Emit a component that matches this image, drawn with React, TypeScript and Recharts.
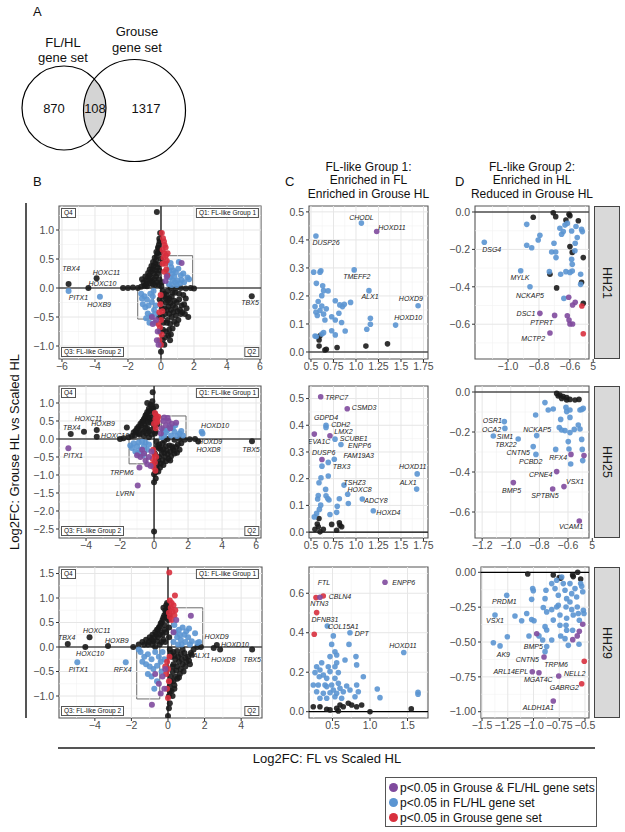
import React from 'react'
import { ScatterChart, Scatter, XAxis, YAxis, ReferenceLine, ReferenceArea } from 'recharts'

type Pt = [number, number]
type Lbl = [string, number, number]

const FONT = "'Liberation Sans', Arial, Helvetica, sans-serif"
const BLACK = '#1b1b1b'
const BLUE = '#5b95d2'
const RED = '#d8303e'
const PURPLE = '#7f4a9d'

// ---- A: venn ----
const VENN_SETS = ['FL/HL', 'Grouse']
const VENN_COUNTS = [870, 108, 1317]

// ---- B: all genes, per stage ----
const B1_BLACK: Pt[] = [
  [-5.6, 0.07], [-3.9, 0.17], [-4.4, 0.0], [5.5, -0.14], [-0.25, 1.31], [0.0, -1.1],
  [-2.3, 0.0], [-2.0, 0.0], [-1.7, 0.01], [-1.4, 0.0], [-1.2, 0.02], [-1.0, 0.04], [-0.85, 0.03],
  [0.6, 0.0], [0.9, -0.01], [1.2, 0.0], [1.5, -0.01], [1.8, 0.0], [2.0, -0.01],
  [-0.05, 0.95], [-0.1, 0.85], [-0.12, 0.75], [-0.15, 0.68], [-0.2, 0.6], [-0.25, 0.55], [-0.3, 0.48],
  [-0.35, 0.42], [-0.45, 0.38], [-0.5, 0.32], [-0.6, 0.28], [-0.7, 0.22], [-0.8, 0.18], [-0.9, 0.13],
  [-1.05, 0.1], [-0.15, 0.4], [-0.1, 0.3], [-0.2, 0.25], [-0.3, 0.2], [-0.05, 0.62], [0.0, 0.5],
  [-0.4, 0.15], [-0.55, 0.12], [-0.25, 0.1], [-0.1, 0.15], [0.05, 0.1],
  [-0.08, 0.8], [-0.18, 0.7], [-0.28, 0.62], [-0.38, 0.52], [-0.48, 0.45], [-0.58, 0.38], [-0.68, 0.32],
  [-0.78, 0.26], [-0.95, 0.2], [-1.15, 0.15], [-0.22, 0.35], [-0.32, 0.3], [-0.42, 0.25], [-0.62, 0.18],
  [-0.72, 0.12], [-0.9, 0.06], [-0.5, 0.06], [-0.35, 0.05], [-0.15, 0.05], [0.02, 0.03], [-0.65, 0.08],
  [0.1, -0.05], [0.2, -0.1], [0.35, -0.12], [0.5, -0.18], [0.65, -0.15], [0.8, -0.22], [0.95, -0.25],
  [1.1, -0.2], [1.25, -0.3], [1.4, -0.28], [1.55, -0.35], [1.65, -0.5], [0.3, -0.25], [0.45, -0.32],
  [0.6, -0.38], [0.75, -0.42], [0.9, -0.48], [1.05, -0.55], [1.2, -0.45], [0.25, -0.45], [0.4, -0.55],
  [0.55, -0.62], [0.7, -0.7], [0.15, -0.6], [0.3, -0.75], [0.45, -0.82], [0.1, -0.9], [0.2, -0.98],
  [0.05, -0.35], [1.35, -0.12], [0.85, -0.08], [-0.08, -0.2], [-0.12, -0.5], [-0.05, -0.75], [0.02, -0.25],
  [0.15, -0.15], [0.3, -0.18], [0.42, -0.22], [0.58, -0.26], [0.72, -0.3], [0.88, -0.34], [1.0, -0.4],
  [1.15, -0.38], [1.3, -0.42], [1.45, -0.45], [0.35, -0.38], [0.5, -0.45], [0.65, -0.5], [0.8, -0.58],
  [0.95, -0.62], [0.2, -0.35], [0.35, -0.6], [0.5, -0.72], [0.6, -0.8], [0.25, -0.85], [0.12, -0.72],
  [0.08, -0.5], [1.1, -0.1], [0.7, -0.08], [0.4, -0.05], [1.5, -0.18], [0.55, -0.9],
]
const B1_BLUE: Pt[] = [
  [-5.6, -0.05], [-3.7, -0.15],
  [0.5, 0.3], [0.62, 0.36], [0.75, 0.3], [0.9, 0.27], [1.05, 0.33], [1.2, 0.22], [1.35, 0.25], [1.6, 0.18],
  [0.55, 0.18], [0.7, 0.14], [0.85, 0.1], [1.0, 0.13], [1.15, 0.08], [0.65, 0.05], [0.8, 0.2], [0.95, 0.05],
  [1.4, 0.1], [0.58, 0.43], [1.08, 0.45], [1.7, 0.15], [0.48, 0.07], [0.68, 0.24], [1.25, 0.14], [0.4, 0.22],
  [-1.2, -0.1], [-1.0, -0.14], [-0.85, -0.2], [-0.65, -0.1], [-1.1, -0.28], [-0.95, -0.33], [-0.75, -0.3],
  [-0.55, -0.24], [-0.42, -0.38], [-0.6, -0.48], [-0.8, -0.44], [-0.38, -0.6], [-0.5, -0.14], [-1.15, -0.18],
  [-0.45, -0.05], [-0.3, -0.3], [-0.7, -0.6], [-0.9, -0.52], [-0.35, -0.45],
]
const B1_RED: Pt[] = [
  [0.05, 0.95], [0.12, 0.86], [0.18, 0.8], [0.22, 0.74], [0.28, 0.7], [0.1, 0.66], [0.2, 0.6], [0.3, 0.56],
  [0.15, 0.52], [0.35, 0.47], [0.25, 0.42], [0.32, 0.32], [0.38, 0.22], [0.1, 0.42], [0.2, 0.28], [0.4, 0.6],
  [-0.04, -0.28], [-0.1, -0.42], [0.0, -0.55], [-0.06, -0.68], [0.04, -0.8], [-0.1, -0.9], [0.0, -0.98],
  [-0.16, -0.62], [0.08, -0.4], [-0.02, -0.12],
]
const B1_PURPLE: Pt[] = [
  [1.25, 0.43], [0.35, 0.2], [0.28, 0.12], [-0.3, -0.55], [-0.2, -0.75], [-0.25, -0.9], [-0.5, -0.62],
  [-0.55, -0.5], [-0.15, -0.98],
]
const B1_LABELS: Lbl[] = [
  ['TBX4', -5.45, 0.33], ['HOXC11', -3.3, 0.26], ['HOXC10', -3.55, 0.07], ['PITX1', -5.0, -0.17],
  ['HOXB9', -3.75, -0.29], ['TBX5', 5.4, -0.25],
]

const B2_BLACK: Pt[] = [
  [-4.9, 0.14], [-4.12, 0.2], [-3.37, 0.25], [-3.37, 0.06], [-1.6, 0.32], [2.41, 0.0], [2.6, -0.07],
  [5.76, -0.06], [-0.08, 1.3], [0.0, -2.57],
  [-0.1, 1.05], [-0.2, 0.95], [-0.3, 0.85], [-0.15, 0.8], [-0.4, 0.75], [-0.25, 0.7], [-0.5, 0.65],
  [-0.6, 0.55], [-0.35, 0.6], [-0.7, 0.48], [-0.8, 0.42], [-0.55, 0.4], [-0.9, 0.35], [-1.0, 0.3],
  [-1.1, 0.22], [-1.2, 0.18], [-0.4, 0.3], [-0.2, 0.45], [-0.1, 0.6], [0.0, 0.35], [-0.3, 0.2],
  [-0.6, 0.2], [-0.85, 0.12], [-1.3, 0.08], [-1.5, 0.05], [-0.15, 0.12], [0.1, 0.2], [0.2, 0.4],
  [-0.05, 0.85], [0.05, 0.7], [-0.45, 0.5],
  [-0.15, 0.9], [-0.3, 0.78], [-0.45, 0.68], [-0.55, 0.58], [-0.65, 0.5], [-0.75, 0.38], [-0.95, 0.28],
  [-1.05, 0.18], [-0.25, 0.55], [-0.35, 0.45], [-0.5, 0.32], [-0.7, 0.25], [-0.9, 0.15], [-0.45, 0.15],
  [-0.2, 0.25], [-1.15, 0.1], [-0.6, 0.08], [-0.3, 0.05], [0.05, 0.15], [-0.05, 0.5], [0.12, 0.9], [-0.4, 1.0],
  [-2.0, 0.0], [-1.8, 0.02], [0.8, 0.0], [1.2, -0.02], [1.5, 0.0], [1.8, -0.02], [2.1, -0.01],
  [0.15, -0.08], [0.3, -0.15], [0.5, -0.12], [0.7, -0.2], [0.9, -0.18], [1.1, -0.25], [1.3, -0.22],
  [1.5, -0.3], [0.4, -0.3], [0.6, -0.38], [0.8, -0.42], [1.0, -0.48], [1.2, -0.4], [0.3, -0.5],
  [0.5, -0.58], [0.7, -0.62], [0.2, -0.7], [0.35, -0.8], [0.1, -0.92], [0.0, -0.98], [0.05, -0.4],
  [0.95, -0.6], [1.6, -0.12], [0.25, -0.25],
  [0.2, -0.2], [0.35, -0.25], [0.55, -0.28], [0.75, -0.32], [0.95, -0.35], [1.15, -0.32], [1.35, -0.38],
  [0.45, -0.42], [0.65, -0.5], [0.85, -0.55], [0.25, -0.6], [0.4, -0.68], [0.55, -0.72], [0.15, -0.82],
  [0.25, -0.9], [1.05, -0.2], [1.4, -0.15], [0.6, -0.05], [0.1, -1.1], [0.0, -1.2],
]
const B2_BLUE: Pt[] = [
  [2.8, 0.2], [2.85, 0.15],
  [0.8, 0.25], [1.2, 0.2], [1.5, 0.15], [1.6, 0.22], [0.6, 0.1], [1.0, 0.1], [0.45, 0.05], [0.7, 0.18],
  [1.1, 0.3], [1.35, 0.08], [0.9, 0.35], [1.7, 0.1], [0.55, 0.25], [1.25, 0.38],
  [-1.0, -0.2], [-1.3, -0.25], [-0.8, -0.3], [-0.6, -0.2], [-1.1, -0.35], [-0.4, -0.3], [-1.2, -0.12],
  [-0.9, -0.1], [-0.7, -0.08], [-1.4, -0.18], [-0.5, -0.1], [-0.3, -0.15], [-0.95, -0.4], [-0.65, -0.45],
]
const B2_RED: Pt[] = [
  [0.05, 0.72], [0.12, 0.65], [0.18, 0.58], [0.08, 0.55], [0.22, 0.5], [0.15, 0.45], [0.0, 0.42],
  [0.1, 0.3], [0.25, 0.62], [-0.05, -0.3], [0.02, -0.42], [-0.08, -0.55], [0.05, -0.65], [-0.03, -0.78],
  [0.08, -0.88], [-0.1, -0.7], [0.12, -0.5],
]
const B2_PURPLE: Pt[] = [
  [-5.04, -0.26], [-0.86, -0.79], [-0.96, -1.29],
  [0.6, 0.6], [0.85, 0.5], [1.05, 0.42], [0.7, 0.38], [1.3, 0.45], [0.45, 0.3], [0.55, 0.5], [0.95, 0.3],
  [0.8, 0.58], [0.4, 0.15],
  [-0.6, -0.4], [-0.3, -0.5], [-0.5, -0.6], [-0.2, -0.75], [-0.8, -0.5], [-0.4, -0.7], [-1.0, -0.45],
  [-0.7, -0.3], [-0.15, -0.35],
]
const B2_LABELS: Lbl[] = [
  ['TBX4', -4.84, 0.33], ['HOXC11', -3.86, 0.57], ['HOXB9', -3.0, 0.42], ['HOXC10', -2.29, 0.09],
  ['PITX1', -4.75, -0.47], ['TRPM6', -1.9, -0.94], ['LVRN', -1.7, -1.51], ['HOXD10', 3.59, 0.37],
  ['HOXD9', 3.3, -0.06], ['HOXD8', 3.2, -0.3], ['TBX5', 5.7, -0.3],
]

const B3_BLACK: Pt[] = [
  [-5.48, 0.06], [-4.29, 0.2], [-4.52, 0.0], [-3.28, 0.02], [1.3, -0.16], [2.67, 0.04], [2.5, -0.02],
  [2.85, -0.05], [4.6, -0.05], [0.0, -1.41],
  [-0.05, 0.9], [-0.1, 0.85], [0.0, 0.8], [-0.15, 0.75], [-0.2, 0.65], [-0.1, 0.6], [-0.3, 0.55],
  [-0.4, 0.48], [-0.2, 0.45], [-0.5, 0.4], [-0.6, 0.35], [-0.7, 0.3], [-0.85, 0.25], [-1.0, 0.2],
  [-1.2, 0.15], [-1.4, 0.1], [-1.6, 0.05], [-0.35, 0.3], [-0.55, 0.2], [-0.8, 0.12], [-0.25, 0.15],
  [-0.1, 0.3], [0.0, 0.55], [0.05, 0.4], [-1.1, 0.05], [-0.45, 0.05], [-0.7, 0.0], [-1.9, 0.0],
  [-0.12, 0.7], [-0.25, 0.6], [-0.35, 0.5], [-0.45, 0.42], [-0.55, 0.35], [-0.65, 0.25], [-0.75, 0.2],
  [-0.9, 0.15], [-1.05, 0.1], [-1.3, 0.05], [-0.2, 0.35], [-0.3, 0.25], [-0.45, 0.25], [-0.6, 0.12],
  [-0.85, 0.05], [-0.15, 0.1], [-0.35, 0.1], [0.05, 0.2], [-0.05, 0.75], [0.08, 0.65], [-0.25, 0.8],
  [0.1, -0.05], [0.3, -0.1], [0.5, -0.08], [0.7, -0.15], [0.9, -0.12], [1.1, -0.2], [1.4, -0.05],
  [1.6, 0.0], [1.8, 0.0], [0.2, -0.2], [0.4, -0.25], [0.6, -0.3], [0.8, -0.35], [1.0, -0.3],
  [0.25, -0.4], [0.45, -0.48], [0.65, -0.55], [0.15, -0.6], [0.3, -0.7], [0.1, -0.8], [0.2, -0.9],
  [0.05, -1.0], [0.5, -0.65], [0.85, -0.5], [1.2, -0.35], [0.35, -0.85],
  [0.15, -0.12], [0.35, -0.18], [0.55, -0.2], [0.75, -0.25], [0.95, -0.22], [1.15, -0.28], [0.3, -0.35],
  [0.5, -0.4], [0.7, -0.45], [0.95, -0.4], [0.4, -0.6], [0.6, -0.62], [0.25, -0.5], [0.15, -0.7],
  [0.35, -0.78], [0.1, -0.9], [0.25, -1.0], [0.1, -1.15], [0.05, -1.25], [1.25, -0.12], [0.8, -0.05],
]
const B3_BLUE: Pt[] = [
  [-4.96, -0.31], [-2.31, -0.31],
  [0.3, 0.1], [0.5, 0.2], [0.7, 0.15], [0.9, 0.25], [1.1, 0.2], [1.3, 0.12], [1.48, 0.28], [0.6, 0.35],
  [0.8, 0.4], [1.0, 0.32], [0.4, 0.3], [1.2, 0.05], [1.6, 0.08], [0.55, 0.05], [0.75, 0.05], [0.95, 0.1],
  [0.35, 0.45], [1.15, 0.38], [1.7, 0.1], [0.65, 0.25],
  [-1.5, -0.1], [-1.3, -0.2], [-1.1, -0.15], [-0.9, -0.25], [-0.7, -0.1], [-0.5, -0.2], [-1.2, -0.35],
  [-1.0, -0.4], [-0.8, -0.45], [-0.6, -0.38], [-0.4, -0.3], [-1.4, -0.3], [-0.3, -0.1], [-0.9, -0.6],
  [-0.6, -0.7], [-1.1, -0.55], [-0.35, -0.5], [-1.6, -0.05], [-0.2, -0.25], [-0.75, -0.85],
]
const B3_RED: Pt[] = [
  [0.07, 1.52], [0.38, 1.05], [0.1, 0.95], [0.2, 0.9], [0.3, 0.85], [0.15, 0.8], [0.25, 0.72], [0.35, 0.65],
  [0.1, 0.62], [0.2, 0.55], [0.4, 0.75], [0.05, 0.7], [-0.05, -0.3], [0.0, -0.45], [-0.1, -0.55],
  [0.05, -0.7], [-0.05, -0.85], [0.0, -1.04], [-0.15, -0.4], [0.08, -0.2],
]
const B3_PURPLE: Pt[] = [
  [1.25, 0.64], [0.45, 0.55], [0.3, 0.3], [-0.88, -1.18], [-0.3, -0.6], [-0.5, -0.75], [-0.2, -0.85],
  [-0.4, -0.95], [-0.7, -0.55], [-0.15, -0.45],
]
const B3_LABELS: Lbl[] = [
  ['TBX4', -5.54, 0.2], ['HOXC11', -3.9, 0.33], ['HOXB9', -2.8, 0.14], ['HOXC10', -4.26, -0.14],
  ['PITX1', -4.9, -0.45], ['RFX4', -2.48, -0.45], ['ALX1', 1.84, -0.18], ['HOXD9', 2.66, 0.21],
  ['HOXD10', 3.66, 0.06], ['HOXD8', 3.02, -0.25], ['TBX5', 4.6, -0.25],
]

// ---- C: FL-like group 1 ----
const C1_BLACK: Pt[] = [
  [0.59, 0.043], [0.6, 0.058], [0.59, 0.021], [0.655, 0.007], [0.67, 0.01], [0.79, 0.016], [1.11, 0.021],
  [1.35, 0.029],
]
const C1_BLUE: Pt[] = [
  [1.06, 0.46], [0.555, 0.414], [0.98, 0.293], [1.144, 0.219], [1.69, 0.165], [1.44, 0.096],
  [0.53, 0.285], [0.6, 0.285], [0.61, 0.29], [0.56, 0.245], [0.63, 0.236], [0.64, 0.219], [0.69, 0.218],
  [0.62, 0.201], [0.58, 0.18], [0.545, 0.162], [0.62, 0.164], [0.67, 0.154], [0.6, 0.148], [0.555, 0.142],
  [0.64, 0.135], [0.57, 0.13], [0.73, 0.126], [0.655, 0.114], [0.77, 0.183], [0.82, 0.168], [0.85, 0.162],
  [0.87, 0.17], [0.94, 0.177], [0.81, 0.138], [0.77, 0.114], [0.84, 0.105], [0.73, 0.076], [0.77, 0.061],
  [0.88, 0.075], [0.64, 0.069], [0.62, 0.064], [0.56, 0.055], [0.545, 0.057], [1.16, 0.12], [1.16, 0.099],
  [1.12, 0.081],
]
const C1_PURPLE: Pt[] = [[1.23, 0.43]]
const C1_RED: Pt[] = []
const C1_LABELS: Lbl[] = [
  ['CHODL', 1.06, 0.48], ['HOXD11', 1.4, 0.445], ['DUSP26', 0.667, 0.39], ['TMEFF2', 1.01, 0.269],
  ['ALX1', 1.156, 0.198], ['HOXD9', 1.61, 0.19], ['HOXD10', 1.58, 0.122],
]

const C2_BLACK: Pt[] = [
  [0.589, 0.051], [0.57, 0.03], [0.581, 0.02], [0.73, 0.029], [0.815, 0.035], [0.822, 0.026], [0.841, 0.02],
  [0.637, 0.011], [0.544, 0.011], [0.785, 0.007], [0.6, 0.001],
]
const C2_BLUE: Pt[] = [
  [0.667, 0.4], [0.667, 0.392], [0.767, 0.348], [0.833, 0.328], [0.759, 0.273], [0.692, 0.261],
  [0.622, 0.247], [0.692, 0.21], [0.611, 0.203], [0.589, 0.185], [0.867, 0.176], [0.663, 0.16],
  [0.581, 0.137], [0.667, 0.136], [0.908, 0.142], [0.686, 0.126], [0.7, 0.12], [0.574, 0.124],
  [0.815, 0.125], [1.07, 0.124], [0.608, 0.101], [0.792, 0.097], [0.915, 0.107], [0.593, 0.085],
  [0.785, 0.074], [1.192, 0.08], [0.563, 0.07], [0.537, 0.057], [0.711, 0.066], [1.68, 0.218], [1.674, 0.161],
]
const C2_PURPLE: Pt[] = [
  [0.608, 0.507], [0.903, 0.462], [0.537, 0.367], [0.711, 0.361], [0.622, 0.272],
]
const C2_RED: Pt[] = []
const C2_LABELS: Lbl[] = [
  ['TRPC7', 0.785, 0.504], ['CSMD3', 1.09, 0.466], ['GDPD4', 0.667, 0.43], ['CDH2', 0.83, 0.404],
  ['LMX2', 0.86, 0.378], ['SCUBE1', 0.975, 0.351], ['EVA1C', 0.59, 0.338], ['ENPP6', 1.04, 0.323],
  ['DUSP6', 0.641, 0.298], ['FAM19A3', 1.03, 0.288], ['TBX3', 0.84, 0.246], ['TSHZ3', 0.985, 0.185],
  ['HOXC8', 1.04, 0.158], ['ADCY8', 1.222, 0.12], ['HOXD4', 1.36, 0.072], ['HOXD11', 1.63, 0.245],
  ['ALX1', 1.58, 0.185],
]

const C3_BLACK: Pt[] = [
  [0.244, 0.025], [0.333, 0.025], [0.423, 0.012], [0.467, 0.009], [0.556, 0.017], [0.6, 0.034],
  [0.644, 0.025], [0.711, 0.043], [0.756, 0.034], [0.822, 0.025], [0.889, 0.034], [1.0, 0.0],
  [0.578, 0.004], [1.55, 0.014],
]
const C3_BLUE: Pt[] = [
  [0.431, 0.434], [0.733, 0.4], [0.511, 0.384], [0.489, 0.341], [0.72, 0.341], [0.533, 0.304],
  [0.467, 0.279], [0.556, 0.287], [0.667, 0.262], [0.813, 0.279], [0.556, 0.248], [0.533, 0.228],
  [0.289, 0.228], [0.333, 0.211], [0.267, 0.198], [0.378, 0.186], [0.467, 0.203], [0.578, 0.198],
  [0.822, 0.237], [0.911, 0.177], [0.324, 0.177], [0.423, 0.169], [0.533, 0.169], [0.244, 0.135],
  [0.311, 0.135], [0.4, 0.135], [0.489, 0.135], [0.578, 0.144], [0.689, 0.13], [0.822, 0.135],
  [0.289, 0.101], [0.378, 0.093], [0.467, 0.096], [0.556, 0.093], [0.644, 0.101], [0.733, 0.11],
  [0.844, 0.101], [0.333, 0.068], [0.423, 0.068], [0.533, 0.076], [0.622, 0.068], [0.8, 0.076],
  [1.097, 0.115], [1.133, 0.071], [0.423, 0.127], [0.511, 0.11], [0.6, 0.119], [0.356, 0.248],
  [0.444, 0.228], [1.45, 0.3], [1.64, 0.098], [1.64, 0.088],
]
const C3_PURPLE: Pt[] = [[0.333, 0.58], [1.2, 0.656]]
const C3_RED: Pt[] = [[0.28, 0.578], [0.377, 0.586], [0.289, 0.502], [0.257, 0.392]]
const C3_LABELS: Lbl[] = [
  ['FTL', 0.387, 0.656], ['CBLN4', 0.6, 0.586], ['NTN3', 0.324, 0.546], ['DFNB31', 0.4, 0.468],
  ['COL15A1', 0.644, 0.431], ['DPT', 0.889, 0.397], ['ENPP6', 1.45, 0.656], ['HOXD11', 1.44, 0.335],
]

// ---- D: FL-like group 2 ----
const D1_BLACK: Pt[] = [
  [-0.837, -0.028], [-0.708, -0.004], [-0.692, -0.025], [-0.626, -0.043], [-0.606, -0.012], [-0.6, -0.02],
  [-0.546, -0.047], [-0.6, -0.185], [-0.585, -0.216], [-0.514, -0.244], [-0.729, -0.333], [-0.686, -0.406],
  [-0.525, -0.376], [-0.514, -0.488],
]
const D1_BLUE: Pt[] = [
  [-1.153, -0.162], [-0.879, -0.066], [-0.794, -0.125], [-0.805, -0.15], [-0.879, -0.178], [-0.847, -0.191],
  [-0.703, -0.167], [-0.718, -0.214], [-0.692, -0.214], [-0.69, -0.244], [-0.665, -0.087], [-0.643, -0.105],
  [-0.654, -0.119], [-0.632, -0.07], [-0.617, -0.061], [-0.589, -0.102], [-0.561, -0.078], [-0.525, -0.093],
  [-0.52, -0.105], [-0.553, -0.137], [-0.566, -0.167], [-0.568, -0.207], [-0.589, -0.253], [-0.585, -0.28],
  [-0.626, -0.319], [-0.6, -0.323], [-0.585, -0.316], [-0.66, -0.333], [-0.733, -0.319], [-0.531, -0.333],
  [-0.531, -0.387], [-0.918, -0.314], [-0.858, -0.4], [-0.639, -0.462],
]
const D1_PURPLE: Pt[] = [
  [-0.608, -0.456], [-0.583, -0.497], [-0.566, -0.483], [-0.794, -0.542], [-0.699, -0.553], [-0.617, -0.555],
  [-0.606, -0.578], [-0.6, -0.599], [-0.583, -0.599], [-0.729, -0.647],
]
const D1_RED: Pt[] = [[-0.523, -0.503], [-0.514, -0.651]]
const D1_LABELS: Lbl[] = [
  ['DSG4', -1.105, -0.203], ['MYLK', -0.923, -0.349], ['NCKAP5', -0.858, -0.444], ['DSC1', -0.884, -0.545],
  ['PTPRT', -0.783, -0.59], ['MCTP2', -0.837, -0.679],
]

const D2_BLACK: Pt[] = [
  [-0.679, -0.007], [-0.656, -0.015], [-0.633, -0.023], [-0.609, -0.028], [-0.586, -0.037], [-0.551, -0.04],
  [-0.523, -0.037], [-0.668, -0.02], [-0.609, -0.04], [-0.644, -0.032],
]
const D2_BLUE: Pt[] = [
  [-0.761, -0.053], [-0.738, -0.09], [-0.703, -0.085], [-0.826, -0.115], [-0.614, -0.077], [-0.609, -0.098],
  [-0.586, -0.09], [-0.504, -0.087], [-0.493, -0.082], [-0.516, -0.09], [-0.586, -0.127], [-0.651, -0.137],
  [-0.661, -0.178], [-0.644, -0.19], [-0.621, -0.193], [-0.586, -0.203], [-0.556, -0.187], [-0.528, -0.165],
  [-0.516, -0.185], [-0.504, -0.237], [-0.598, -0.248], [-0.5, -0.287], [-0.593, -0.285], [-0.686, -0.287],
  [-0.497, -0.343], [-0.581, -0.36], [-1.045, -0.148], [-1.041, -0.182], [-1.122, -0.22], [-0.948, -0.235],
  [-0.819, -0.218], [-0.843, -0.273], [-0.824, -0.312],
]
const D2_PURPLE: Pt[] = [
  [-0.579, -0.312], [-0.488, -0.318], [-0.679, -0.398], [-0.628, -0.473], [-0.707, -0.485], [-0.982, -0.453],
  [-0.521, -0.645],
]
const D2_RED: Pt[] = []
const D2_LABELS: Lbl[] = [
  ['OSR1', -1.129, -0.14], ['OCA2', -1.134, -0.185], ['SIM1', -1.04, -0.22], ['TBX22', -1.034, -0.262],
  ['CNTN5', -0.948, -0.3], ['PCBD2', -0.861, -0.345], ['NCKAP5', -0.815, -0.185], ['RFX4', -0.668, -0.327],
  ['CPNE4', -0.791, -0.412], ['VSX1', -0.551, -0.448], ['BMP5', -0.994, -0.49], ['SPTBN5', -0.761, -0.518],
  ['VCAM1', -0.579, -0.673],
]

const D3_BLACK: Pt[] = [
  [-1.056, -0.012], [-0.808, -0.019], [-0.75, -0.038], [-0.736, -0.043], [-0.614, -0.031], [-0.571, 0.0],
  [-0.542, -0.048], [-0.62, -0.019],
]
const D3_BLUE: Pt[] = [
  [-1.26, -0.165], [-1.374, -0.306], [-1.325, -0.528], [-1.39, -0.505], [-1.254, -0.462], [-1.18, -0.313],
  [-1.115, -0.347], [-1.066, -0.296], [-1.018, -0.339], [-0.995, -0.347], [-1.008, -0.116], [-1.002, -0.132],
  [-1.018, -0.194], [-1.044, -0.457], [-0.947, -0.456], [-0.911, -0.486], [-0.888, -0.39], [-0.872, -0.414],
  [-0.872, -0.533], [-0.888, -0.569], [-0.879, -0.129], [-0.888, -0.189], [-0.872, -0.284], [-0.823, -0.268],
  [-0.808, -0.343], [-0.823, -0.081], [-0.791, -0.117], [-0.775, -0.057], [-0.759, -0.165], [-0.759, -0.237],
  [-0.743, -0.306], [-0.743, -0.38], [-0.711, -0.081], [-0.694, -0.129], [-0.678, -0.189], [-0.684, -0.249],
  [-0.678, -0.33], [-0.684, -0.38], [-0.678, -0.416], [-0.694, -0.476], [-0.646, -0.081], [-0.629, -0.153],
  [-0.646, -0.213], [-0.629, -0.268], [-0.614, -0.306], [-0.62, -0.416], [-0.597, -0.117], [-0.581, -0.177],
  [-0.575, -0.249], [-0.565, -0.296], [-0.555, -0.344], [-0.542, -0.081], [-0.522, -0.139], [-0.516, -0.272],
  [-0.51, -0.296], [-0.558, -0.516], [-0.662, -0.524], [-0.532, -0.1], [-0.905, -0.253], [-0.736, -0.457],
  [-0.823, -0.486], [-0.775, -0.249], [-0.726, -0.034],
]
const D3_PURPLE: Pt[] = [
  [-0.969, -0.441], [-0.898, -0.607], [-1.012, -0.713], [-0.947, -0.72], [-0.755, -0.744], [-0.808, -0.923],
  [-0.522, -0.373], [-0.555, -0.423], [-0.575, -0.456], [-0.619, -0.483],
]
const D3_RED: Pt[] = [[-0.507, -0.638], [-0.532, -0.799]]
const D3_LABELS: Lbl[] = [
  ['PRDM1', -1.283, -0.211], ['VSX1', -1.374, -0.349], ['AK9', -1.293, -0.586], ['BMP5', -1.002, -0.534],
  ['CNTN5', -1.06, -0.624], ['TRPM6', -0.78, -0.66], ['ARL14EPL', -1.221, -0.715], ['MGAT4C', -0.953, -0.77],
  ['NELL2', -0.6, -0.728], ['GABRG2', -0.701, -0.828], ['ALDH1A1', -0.953, -0.968],
]

const STAGES = ['HH21', 'HH25', 'HH29']
const LEGEND_ITEMS = ['p<0.05 in Grouse & FL/HL gene sets', 'p<0.05 in FL/HL gene set', 'p<0.05 in Grouse gene set']
const LEGEND_COLORS = [PURPLE, BLUE, RED]

// ticks
const B1_XT = [-6, -4, -2, 0, 2, 4, 6]
const B1_XL = ['−6', '−4', '−2', '0', '2', '4', '6']
const B1_YT = [-1, -0.5, 0, 0.5, 1]
const B1_YL = ['−1.0', '−0.5', '0.0', '0.5', '1.0']
const B2_XT = [-4, -2, 0, 2, 4, 6]
const B2_XL = ['−4', '−2', '0', '2', '4', '6']
const B2_YT = [-2.5, -2, -1.5, -1, -0.5, 0, 0.5, 1]
const B2_YL = ['−2.5', '−2.0', '−1.5', '−1.0', '−0.5', '0.0', '0.5', '1.0']
const B3_XT = [-4, -2, 0, 2, 4]
const B3_XL = ['−4', '−2', '0', '2', '4']
const B3_YT = [-1, -0.5, 0, 0.5, 1, 1.5]
const B3_YL = ['−1.0', '−0.5', '0.0', '0.5', '1.0', '1.5']
const C12_XT = [0.5, 0.75, 1, 1.25, 1.5, 1.75]
const C12_XL = ['0.5', '0.75', '1.0', '1.25', '1.5', '1.75']
const C12_YT = [0, 0.1, 0.2, 0.3, 0.4, 0.5]
const C12_YL = ['0.0', '0.1', '0.2', '0.3', '0.4', '0.5']
const C3_XT = [0.5, 1, 1.5]
const C3_XL = ['0.5', '1.0', '1.5']
const C3_YT = [0, 0.2, 0.4, 0.6]
const C3_YL = ['0.0', '0.2', '0.4', '0.6']
// the last break of D1/D2 is half hidden in the original, only its "5" shows
const D1_XT = [-1, -0.8, -0.6, -0.45]
const D1_XL = ['−1.0', '−0.8', '−0.6', '5']
const D12_YT = [-0.6, -0.4, -0.2, 0]
const D12_YL = ['−0.6', '−0.4', '−0.2', '0.0']
const D2_XT = [-1.2, -1, -0.8, -0.6, -0.43]
const D2_XL = ['−1.2', '−1.0', '−0.8', '−0.6', '5']
const D3_XT = [-1.5, -1.25, -1, -0.75, -0.5]
const D3_XL = ['−1.5', '−1.25', '−1.0', '−0.75', '−0.5']
const D3_YT = [-1, -0.75, -0.5, -0.25, 0]
const D3_YL = ['−1.00', '−0.75', '−0.50', '−0.25', '0.00']

type Box = [number, number, number, number]

interface PanelProps {
  left: number
  top: number
  width: number
  height: number
  xDomain: [number, number]
  yDomain: [number, number]
  xTicks: number[]
  xLabels: string[]
  yTicks: number[]
  yLabels: string[]
  black: Pt[]
  blue: Pt[]
  red: Pt[]
  purple: Pt[]
  labels: Lbl[]
  zeroX?: boolean
  boxes?: Box[]
  r?: number
}

const YW = 40
const TM = 8
const RM = 14
const XH = 20

function minorOf(t: number[], d: [number, number]) {
  const out: number[] = []
  for (let i = 1; i < t.length; i++) out.push((t[i] + t[i - 1]) / 2)
  const step = t[1] - t[0]
  const lo = t[0] - step / 2
  const hi = t[t.length - 1] + step / 2
  if (lo > d[0]) out.push(lo)
  if (hi < d[1]) out.push(hi)
  return out
}

function fmt(ticks: number[], labels: string[]) {
  return (v: number) => {
    const i = ticks.findIndex((t) => Math.abs(t - v) < 1e-9)
    return i >= 0 ? labels[i] : ''
  }
}

const dot = (color: string, r: number) => (props: any) => (
  <circle cx={props.cx} cy={props.cy} r={r} fill={color} fillOpacity={0.9} />
)

const geneText = (props: any) => (
  <text
    x={props.cx}
    y={props.cy}
    textAnchor="middle"
    dominantBaseline="central"
    fontSize={7}
    fontStyle="italic"
    fill="#222"
    fontFamily={FONT}
  >
    {props.payload.name}
  </text>
)

function Panel(p: PanelProps) {
  const r = p.r ?? 2.8
  const pts = (a: Pt[]) => a.map(([x, y]) => ({ x, y }))
  const tickStyle = { fontSize: 10.5, fill: '#4d4d4d', fontFamily: FONT }
  // grid only on the real breaks (inside the panel)
  const xGrid = p.xTicks.filter((t) => t > p.xDomain[0] && t < p.xDomain[1])
  const xMinor = minorOf(xGrid, p.xDomain)
  const yMinor = minorOf(p.yTicks, p.yDomain)
  return (
    <div style={{ position: 'absolute', left: p.left - YW, top: p.top - TM }}>
      <ScatterChart
        width={YW + p.width + RM}
        height={TM + p.height + XH}
        margin={{ top: TM, right: RM, bottom: 0, left: 0 }}
      >
        <XAxis
          type="number"
          dataKey="x"
          domain={p.xDomain}
          ticks={p.xTicks}
          interval={0}
          allowDataOverflow
          tickFormatter={fmt(p.xTicks, p.xLabels)}
          height={XH}
          tickSize={3}
          tickMargin={1}
          axisLine={false}
          tickLine={{ stroke: '#333' }}
          tick={tickStyle}
        />
        <YAxis
          type="number"
          dataKey="y"
          domain={p.yDomain}
          ticks={p.yTicks}
          interval={0}
          allowDataOverflow
          tickFormatter={fmt(p.yTicks, p.yLabels)}
          width={YW}
          tickSize={3}
          tickMargin={2}
          axisLine={false}
          tickLine={{ stroke: '#333' }}
          tick={tickStyle}
        />
        {xMinor.map((v) => (
          <ReferenceLine key={'xm' + v} x={v} stroke="#f2f2f2" strokeWidth={0.6} />
        ))}
        {yMinor.map((v) => (
          <ReferenceLine key={'ym' + v} y={v} stroke="#f2f2f2" strokeWidth={0.6} />
        ))}
        {xGrid.map((v) => (
          <ReferenceLine key={'xg' + v} x={v} stroke="#e6e6e6" strokeWidth={1} />
        ))}
        {p.yTicks.map((v) => (
          <ReferenceLine key={'yg' + v} y={v} stroke="#e6e6e6" strokeWidth={1} />
        ))}
        {(p.boxes || []).map((b, i) => (
          <ReferenceArea key={'bx' + i} x1={b[0]} x2={b[1]} y1={b[2]} y2={b[3]} fill="none" stroke="#6b6b6b" strokeWidth={1} />
        ))}
        <ReferenceLine y={0} stroke="#000" strokeWidth={1.2} />
        {p.zeroX && <ReferenceLine x={0} stroke="#000" strokeWidth={1.2} />}
        <Scatter data={pts(p.black)} shape={dot(BLACK, r)} isAnimationActive={false} />
        <Scatter data={pts(p.blue)} shape={dot(BLUE, r)} isAnimationActive={false} />
        <Scatter data={pts(p.red)} shape={dot(RED, r)} isAnimationActive={false} />
        <Scatter data={pts(p.purple)} shape={dot(PURPLE, r)} isAnimationActive={false} />
        <Scatter
          data={p.labels.map(([name, x, y]) => ({ name, x, y }))}
          shape={geneText}
          isAnimationActive={false}
        />
        <ReferenceArea
          x1={p.xDomain[0]}
          x2={p.xDomain[1]}
          y1={p.yDomain[0]}
          y2={p.yDomain[1]}
          fill="none"
          stroke="#555"
          strokeWidth={1.1}
        />
      </ScatterChart>
    </div>
  )
}

function QTag({ x, y, text, right }: { x: number; y: number; text: string; right?: boolean }) {
  return (
    <div
      style={{
        position: 'absolute',
        left: x,
        top: y,
        transform: right ? 'translateX(-100%)' : undefined,
        fontFamily: FONT,
        fontSize: 6.5,
        lineHeight: '8px',
        padding: '0 2px',
        border: '1px solid #555',
        background: '#fff',
        color: '#111',
        whiteSpace: 'nowrap',
      }}
    >
      {text}
    </div>
  )
}

function QTags({ top, bottom }: { top: number; bottom: number }) {
  return (
    <>
      <QTag x={61} y={top + 2} text="Q4" />
      <QTag x={259} y={top + 2} text="Q1: FL-like Group 1" right />
      <QTag x={61} y={bottom - 12} text="Q3: FL-like Group 2" />
      <QTag x={259} y={bottom - 12} text="Q2" right />
    </>
  )
}

function Strip({ top, height, text }: { top: number; height: number; text: string }) {
  return (
    <div
      style={{
        position: 'absolute',
        left: 594,
        top,
        width: 26,
        height,
        boxSizing: 'border-box',
        background: '#d9d9d9',
        border: '1px solid #444',
        display: 'flex',
        alignItems: 'center',
        justifyContent: 'center',
      }}
    >
      <span style={{ writingMode: 'vertical-rl', fontFamily: FONT, fontSize: 12.5, color: '#1a1a1a' }}>{text}</span>
    </div>
  )
}

function Title({ cx, lines }: { cx: number; lines: string[] }) {
  return (
    <div
      style={{
        position: 'absolute',
        left: cx - 80,
        top: 161,
        width: 160,
        textAlign: 'center',
        fontFamily: FONT,
        fontSize: 12,
        lineHeight: '13.3px',
        color: '#111',
      }}
    >
      {lines.map((l) => (
        <div key={l}>{l}</div>
      ))}
    </div>
  )
}

function Letter({ x, y, t }: { x: number; y: number; t: string }) {
  return (
    <div style={{ position: 'absolute', left: x, top: y, fontFamily: FONT, fontSize: 13, color: '#111', lineHeight: '14px' }}>
      {t}
    </div>
  )
}

function Venn() {
  const txt = { fontFamily: FONT, fontSize: 13, fill: '#111', textAnchor: 'middle' as const }
  return (
    <svg width={200} height={170} style={{ position: 'absolute', left: 0, top: 0 }}>
      <defs>
        <clipPath id="vennLeft">
          <circle cx={64} cy={108} r={42} />
        </clipPath>
      </defs>
      <circle cx={134.5} cy={110.5} r={51} fill="#d4d4d4" clipPath="url(#vennLeft)" />
      <circle cx={64} cy={108} r={42} fill="none" stroke="#000" strokeWidth={1.2} />
      <circle cx={134.5} cy={110.5} r={51} fill="none" stroke="#000" strokeWidth={1.2} />
      <text x={63} y={47} {...txt}>{VENN_SETS[0]}</text>
      <text x={63} y={62} {...txt}>gene set</text>
      <text x={137} y={36} {...txt}>{VENN_SETS[1]}</text>
      <text x={137} y={52} {...txt}>gene set</text>
      <text x={54} y={113} {...txt}>{VENN_COUNTS[0]}</text>
      <text x={95} y={113} {...txt}>{VENN_COUNTS[1]}</text>
      <text x={146} y={113} {...txt}>{VENN_COUNTS[2]}</text>
    </svg>
  )
}

export default function App() {
  return (
    <div style={{ position: 'absolute', left: 0, top: 0, width: 625, height: 832, background: '#fff', overflow: 'hidden' }}>
      <Letter x={33} y={5} t="A" />
      <Venn />

      <Letter x={33} y={175} t="B" />
      <Letter x={285} y={175} t="C" />
      <Letter x={455} y={175} t="D" />
      <Title cx={368.5} lines={['FL-like Group 1:', 'Enriched in FL', 'Enriched in Grouse HL']} />
      <Title cx={532} lines={['FL-like Group 2:', 'Enriched in HL', 'Reduced in Grouse HL']} />

      {/* B column */}
      <Panel
        left={59} top={206} width={202} height={153}
        xDomain={[-6.18, 6.06]} yDomain={[-1.224, 1.414]}
        xTicks={B1_XT} xLabels={B1_XL} yTicks={B1_YT} yLabels={B1_YL}
        black={B1_BLACK} blue={B1_BLUE} red={B1_RED} purple={B1_PURPLE} labels={B1_LABELS}
        zeroX boxes={[[0.38, 1.92, 0, 0.557], [-1.41, -0.47, -0.535, 0]]} r={3}
      />
      <QTags top={206} bottom={359} />
      <Panel
        left={59} top={386} width={202} height={152}
        xDomain={[-5.59, 6.29]} yDomain={[-2.75, 1.472]}
        xTicks={B2_XT} xLabels={B2_XL} yTicks={B2_YT} yLabels={B2_YL}
        black={B2_BLACK} blue={B2_BLUE} red={B2_RED} purple={B2_PURPLE} labels={B2_LABELS}
        zeroX boxes={[[0.45, 1.88, 0, 0.64], [-1.47, -0.45, -0.69, 0]]} r={3}
      />
      <QTags top={386} bottom={538} />
      <Panel
        left={59} top={567} width={203} height={151}
        xDomain={[-5.96, 5.14]} yDomain={[-1.449, 1.633]}
        xTicks={B3_XT} xLabels={B3_XL} yTicks={B3_YT} yLabels={B3_YL}
        black={B3_BLACK} blue={B3_BLUE} red={B3_RED} purple={B3_PURPLE} labels={B3_LABELS}
        zeroX boxes={[[0.2, 1.9, 0, 0.8], [-1.71, -0.45, -1.06, 0]]} r={3}
      />
      <QTags top={567} bottom={718} />

      {/* C column */}
      <Panel
        left={309} top={206} width={119} height={153}
        xDomain={[0.478, 1.8]} yDomain={[-0.025, 0.521]}
        xTicks={C12_XT} xLabels={C12_XL} yTicks={C12_YT} yLabels={C12_YL}
        black={C1_BLACK} blue={C1_BLUE} red={C1_RED} purple={C1_PURPLE} labels={C1_LABELS}
      />
      <Panel
        left={309} top={386} width={119} height={152}
        xDomain={[0.478, 1.8]} yDomain={[-0.022, 0.547]}
        xTicks={C12_XT} xLabels={C12_XL} yTicks={C12_YT} yLabels={C12_YL}
        black={C2_BLACK} blue={C2_BLUE} red={C2_RED} purple={C2_PURPLE} labels={C2_LABELS}
      />
      <Panel
        left={309} top={567} width={119} height={151}
        xDomain={[0.187, 1.773]} yDomain={[-0.032, 0.733]}
        xTicks={C3_XT} xLabels={C3_XL} yTicks={C3_YT} yLabels={C3_YL}
        black={C3_BLACK} blue={C3_BLUE} red={C3_RED} purple={C3_PURPLE} labels={C3_LABELS}
      />

      {/* D column */}
      <Panel
        left={475} top={206} width={114} height={153}
        xDomain={[-1.213, -0.477]} yDomain={[-0.786, 0.032]}
        xTicks={D1_XT} xLabels={D1_XL} yTicks={D12_YT} yLabels={D12_YL}
        black={D1_BLACK} blue={D1_BLUE} red={D1_RED} purple={D1_PURPLE} labels={D1_LABELS}
      />
      <Panel
        left={475} top={386} width={114} height={152}
        xDomain={[-1.25, -0.453]} yDomain={[-0.73, 0.03]}
        xTicks={D2_XT} xLabels={D2_XL} yTicks={D12_YT} yLabels={D12_YL}
        black={D2_BLACK} blue={D2_BLUE} red={D2_RED} purple={D2_PURPLE} labels={D2_LABELS}
      />
      <Panel
        left={481} top={567} width={108} height={151}
        xDomain={[-1.51, -0.461]} yDomain={[-1.045, 0.038]}
        xTicks={D3_XT} xLabels={D3_XL} yTicks={D3_YT} yLabels={D3_YL}
        black={D3_BLACK} blue={D3_BLUE} red={D3_RED} purple={D3_PURPLE} labels={D3_LABELS}
      />
      <Strip top={206} height={153} text={STAGES[0]} />
      <Strip top={386} height={152} text={STAGES[1]} />
      <Strip top={567} height={151} text={STAGES[2]} />

      {/* shared axis titles */}
      <div style={{ position: 'absolute', left: 25, top: 203, width: 1.5, height: 515, background: '#555' }} />
      <div
        style={{
          position: 'absolute',
          left: 15 - 110,
          top: 452 - 8,
          width: 220,
          textAlign: 'center',
          transform: 'rotate(-90deg)',
          fontFamily: FONT,
          fontSize: 13,
          lineHeight: '16px',
          color: '#111',
        }}
      >
        Log2FC: Grouse HL vs Scaled HL
      </div>
      <div style={{ position: 'absolute', left: 58, top: 747, width: 537, height: 1.5, background: '#555' }} />
      <div
        style={{
          position: 'absolute',
          left: 177,
          top: 751,
          width: 300,
          textAlign: 'center',
          fontFamily: FONT,
          fontSize: 13,
          lineHeight: '16px',
          color: '#111',
        }}
      >
        Log2FC: FL vs Scaled HL
      </div>

      {/* legend */}
      <div
        style={{
          position: 'absolute',
          left: 385,
          top: 777,
          width: 212,
          height: 50,
          boxSizing: 'border-box',
          border: '1px solid #555',
          background: '#fff',
          paddingTop: 2,
        }}
      >
        {LEGEND_ITEMS.map((t, i) => (
          <div key={t} style={{ display: 'flex', alignItems: 'center', height: 15, fontFamily: FONT, fontSize: 12, color: '#111', whiteSpace: 'nowrap' }}>
            <span style={{ display: 'inline-block', width: 9, height: 9, borderRadius: 5, background: LEGEND_COLORS[i], margin: '0 2px 0 3px' }} />
            {t}
          </div>
        ))}
      </div>
    </div>
  )
}
